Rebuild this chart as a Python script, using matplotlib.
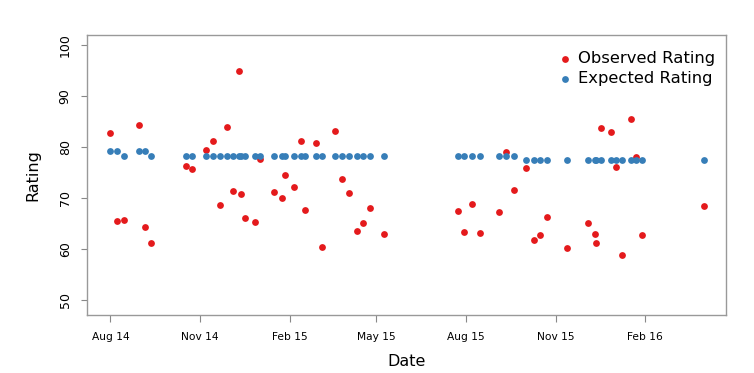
import numpy as np
import pandas as pd
import matplotlib
matplotlib.use('Agg')
import matplotlib.pyplot as plt
import matplotlib.dates as mdates

# даты матчей
dates = ['2014-08-01', '2014-08-08', '2014-08-15', '2014-08-30', '2014-09-06', '2014-09-12',
         '2014-10-18', '2014-10-24', '2014-11-07', '2014-11-14', '2014-11-22', '2014-11-29',
         '2014-12-05', '2014-12-11', '2014-12-13', '2014-12-17', '2014-12-27', '2015-01-02',
         '2015-01-16', '2015-01-24', '2015-01-27', '2015-02-06', '2015-02-13', '2015-02-17',
         '2015-02-28', '2015-03-06', '2015-03-20', '2015-03-27', '2015-04-03', '2015-04-11',
         '2015-04-17', '2015-04-24', '2015-05-09', '2015-07-24', '2015-07-30', '2015-08-07',
         '2015-08-15', '2015-09-04', '2015-09-11', '2015-09-19', '2015-10-02', '2015-10-10',
         '2015-10-16', '2015-10-23', '2015-11-13', '2015-12-04', '2015-12-11', '2015-12-13',
         '2015-12-18', '2015-12-28', '2016-01-02', '2016-01-08', '2016-01-17', '2016-01-23',
         '2016-01-29', '2016-04-01']

observed = [82.8, 65.4, 65.6, 84.3, 64.3, 61.2, 76.3, 75.7, 79.4, 81.2, 68.7, 84.0,
            71.4, 95.0, 70.8, 66.1, 65.2, 77.6, 71.2, 69.9, 74.5, 72.2, 81.2, 67.6,
            80.8, 60.4, 83.1, 73.7, 70.9, 63.5, 65.1, 68.1, 62.9, 67.5, 63.4, 68.9,
            63.2, 67.2, 79.0, 71.6, 75.9, 61.8, 62.7, 66.3, 60.1, 65.1, 62.9, 61.2,
            83.8, 83.0, 76.1, 58.8, 85.5, 78.0, 62.7, 68.4]

expected = [79.3, 79.3, 78.2, 79.3, 79.3, 78.2] + [78.2] * 34 + [77.4] * 16

tick_dates = ['2014-08-01', '2014-11-01', '2015-02-01', '2015-05-01',
              '2015-08-01', '2015-11-01', '2016-02-01']
tick_labels = ['Aug 14', 'Nov 14', 'Feb 15', 'May 15', 'Aug 15', 'Nov 15', 'Feb 16']

d = pd.to_datetime(dates)

fig = plt.figure(figsize=(7.54, 3.73), dpi=100)
ax = fig.add_axes([0.1154, 0.1555, 0.8475, 0.7505])

ax.scatter(d, observed, s=24, color='#E41A1C', label='Observed Rating', zorder=3, linewidths=0)
ax.scatter(d, expected, s=24, color='#377EB8', label='Expected Rating', zorder=3, linewidths=0)

ax.set_xlim(pd.Timestamp('2014-07-08'), pd.Timestamp('2016-04-24'))
ax.set_ylim(47.05, 101.95)
ax.set_xticks(pd.to_datetime(tick_dates))
ax.set_xticklabels(tick_labels, fontsize=7.7)
ax.set_yticks([50, 60, 70, 80, 90, 100])
ax.tick_params(axis='y', labelsize=9, labelrotation=90, length=4, pad=7, color='#888888')
ax.tick_params(axis='x', length=5, pad=7, color='#888888')
for lab in ax.get_yticklabels():
    lab.set_va('center')

for sp in ax.spines.values():
    sp.set_color('#999999')
    sp.set_linewidth(1)

ax.set_xlabel('Date', fontsize=11.5, labelpad=9)
ax.set_ylabel('Rating', fontsize=11.5, labelpad=13)

ax.legend(loc='upper right', frameon=False, fontsize=11.8, handletextpad=0.3,
          handlelength=1.0, labelspacing=0.3, borderaxespad=0.4,
          bbox_to_anchor=(1.003, 0.99))

fig.savefig('out.png', dpi=100)
